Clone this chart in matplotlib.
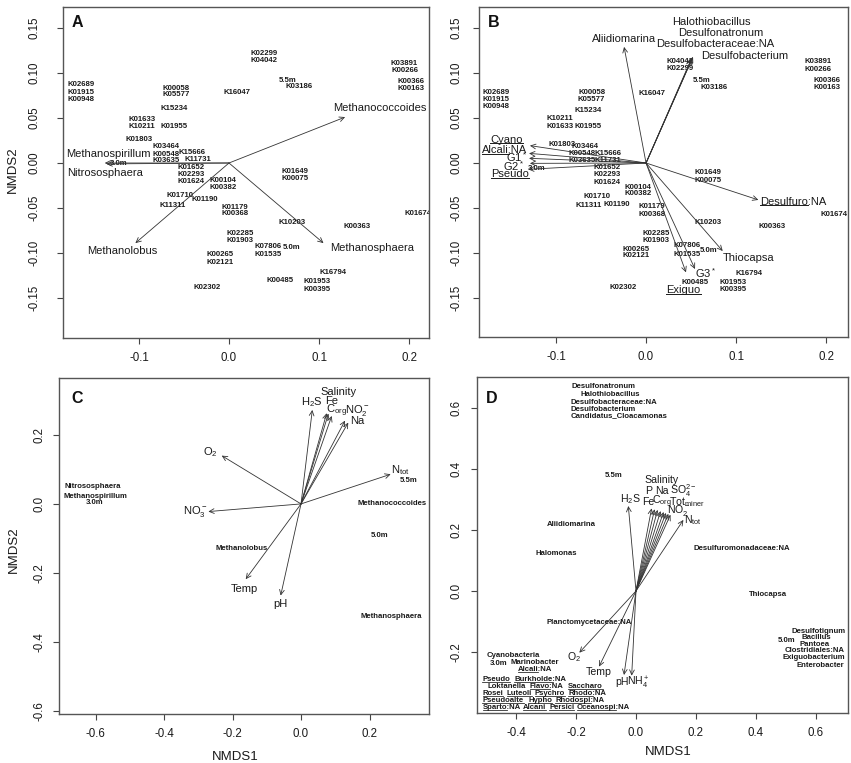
import matplotlib
matplotlib.use('Agg')
import matplotlib.pyplot as plt
from matplotlib.lines import Line2D

plt.rcParams['font.family'] = ['Liberation Sans', 'DejaVu Sans']
plt.rcParams['mathtext.fontset'] = 'custom'
plt.rcParams['mathtext.rm'] = 'Liberation Sans'
plt.rcParams['mathtext.it'] = 'Liberation Sans:italic'
plt.rcParams['mathtext.bf'] = 'Liberation Sans:bold'
plt.rcParams['mathtext.sf'] = 'Liberation Sans'

# ---------------- DATA ----------------
# KEGG orthologs (site/function scores) shared by panels A and B
ko_labels = ['K02689', 'K01915', 'K00948', 'K00058', 'K05577', 'K15234', 'K01633', 'K10211',
             'K01955', 'K01803', 'K03464', 'K15666', 'K00548', 'K03635', 'K11731', 'K01652',
             'K02293', 'K01624', 'K00104', 'K00382', 'K01649', 'K00075', 'K01710', 'K11311',
             'K01190', 'K01179', 'K00368', 'K10203', 'K00363', 'K01674', 'K02285', 'K01903',
             'K07806', 'K01535', 'K00265', 'K02121', 'K02302', 'K00485', 'K16794', 'K01953',
             'K00395', 'K02299', 'K04042', 'K03186', 'K16047', 'K03891', 'K00266', 'K00366',
             'K00163']
koA_x = [-0.164, -0.164, -0.164, -0.059, -0.059, -0.061, -0.097, -0.097,
         -0.061, -0.100, -0.070, -0.041, -0.070, -0.070, -0.035, -0.042,
         -0.042, -0.042, -0.007, -0.007, 0.073, 0.073, -0.054, -0.063,
         -0.027, 0.0067, 0.0067, 0.070, 0.142, 0.210, 0.012, 0.012,
         0.043, 0.043, -0.010, -0.010, -0.024, 0.057, 0.116, 0.098,
         0.098, 0.039, 0.039, 0.078, 0.009, 0.195, 0.195, 0.202,
         0.202]
koA_y = [0.0867, 0.0778, 0.070, 0.0833, 0.0756, 0.061, 0.048, 0.040,
         0.041, 0.0256, 0.018, 0.012, 0.010, 0.003, 0.0044, -0.0047,
         -0.0125, -0.021, -0.019, -0.027, -0.009, -0.017, -0.036, -0.047,
         -0.041, -0.049, -0.056, -0.066, -0.070, -0.056, -0.078, -0.086,
         -0.093, -0.102, -0.102, -0.110, -0.138, -0.131, -0.122, -0.132,
         -0.140, 0.122, 0.114, 0.085, 0.078, 0.111, 0.103, 0.091,
         0.083]
koB_x = [-0.1667, -0.1667, -0.1667, -0.0604, -0.0604, -0.0641, -0.0956, -0.0956,
         -0.0641, -0.0937, -0.0678, -0.0419, -0.0715, -0.0715, -0.0419, -0.0437,
         -0.0437, -0.0437, -0.0085, -0.0085, 0.0693, 0.0693, -0.054, -0.064,
         -0.0326, 0.0063, 0.0063, 0.0685, 0.1396, 0.209, 0.0115, 0.0115,
         0.0452, 0.0452, -0.0107, -0.0107, -0.0252, 0.0544, 0.1144, 0.097,
         0.097, 0.0378, 0.0378, 0.0759, 0.0063, 0.1915, 0.1915, 0.2007,
         0.2007]
koB_y = [0.0785, 0.0707, 0.0626, 0.0778, 0.070, 0.0578, 0.0404, 0.0496,
         0.0404, 0.0211, 0.0181, 0.0107, 0.0107, 0.0033, 0.0033, -0.0052,
         -0.0133, -0.0219, -0.027, -0.0337, -0.0104, -0.0189, -0.037, -0.047,
         -0.0456, -0.0485, -0.0567, -0.0659, -0.070, -0.0567, -0.0781, -0.0856,
         -0.0922, -0.1011, -0.0956, -0.1026, -0.1385, -0.133, -0.1233, -0.1326,
         -0.1404, 0.1052, 0.1133, 0.0841, 0.0767, 0.1133, 0.1044, 0.0922,
         0.0841]

depth_labels = ['3.0m', '5.5m', '5.0m']
depthA_x = [-0.123, 0.065, 0.0696]
depthA_y = [-0.001, 0.092, -0.0937]
depthB_x = [-0.1215, 0.0619, 0.0693]
depthB_y = [-0.006, 0.0922, -0.0967]
depthC_x = [-0.6024, 0.3134, 0.2307]
depthC_y = [0.004, 0.0676, -0.0928]
depthD_x = [-0.4567, -0.0756, 0.5022]
depthD_y = [-0.2393, 0.380, -0.1607]

# Panel A: archaeal genera vectors
a_taxa = ['Methanococcoides', 'Methanospirillum', 'Nitrososphaera', 'Methanolobus', 'Methanosphaera']
a_arrow_x = [0.129, -0.138, -0.136, -0.104, 0.105]
a_arrow_y = [0.051, 0.0, -0.001, -0.089, -0.089]
a_label_x = [0.168, -0.134, -0.138, -0.119, 0.159]
a_label_y = [0.061, 0.010, -0.011, -0.098, -0.094]

# Panel B: bacterial genera vectors
b_taxa = ['Aliidiomarina', 'Halothiobacillus', 'Desulfonatronum', 'Desulfobacteraceae:NA',
          'Desulfobacterium', 'Cyano', 'Alcali:NA', 'G1$^*$', 'G2$^*$', 'Pseudo',
          'Desulfuro:NA', 'Thiocapsa', 'G3$^*$', 'Exiguo']
b_underline = ['', '', '', '', '', 'Cyano', 'Alcali', '', '', 'Pseudo', 'Desulfuro', '', '', 'Exiguo']
b_arrow_x = [-0.0244, 0.050, 0.051, 0.0515, 0.0522, -0.129, -0.130, -0.130, -0.129, -0.131,
             0.1248, 0.0852, 0.0544, 0.0444]
b_arrow_y = [0.129, 0.115, 0.116, 0.117, 0.118, 0.0193, 0.0107, 0.0052, -0.0004, -0.007,
             -0.041, -0.0978, -0.1178, -0.1215]
b_label_x = [-0.0244, 0.0726, 0.083, 0.0767, 0.110, -0.155, -0.157, -0.144, -0.147, -0.151,
             0.1637, 0.1137, 0.0656, 0.0415]
b_label_y = [0.138, 0.157, 0.144, 0.132, 0.119, 0.026, 0.0144, 0.0063, -0.0033, -0.0122,
             -0.043, -0.106, -0.1226, -0.141]

# Panel C: environmental vectors (archaea)
c_vars = ['H$_2$S', 'Fe', 'Salinity', 'C$_{\\mathrm{org}}$', 'NO$_2^-$', 'Na', 'O$_2$',
          'N$_{\\mathrm{tot}}$', 'NO$_3^-$', 'Temp', 'pH']
c_arrow_x = [0.033, 0.075, 0.080, 0.0896, 0.1285, 0.138, -0.2316, 0.2618, -0.2706, -0.1615, -0.0594]
c_arrow_y = [0.2725, 0.263, 0.262, 0.255, 0.2415, 0.2357, 0.14, 0.086, -0.0222, -0.2183, -0.2657]
c_label_x = [0.033, 0.0896, 0.109, 0.104, 0.1626, 0.1645, -0.2657, 0.289, -0.3095, -0.1655, -0.0594]
c_label_y = [0.2965, 0.2985, 0.3256, 0.270, 0.2705, 0.2415, 0.1488, 0.0966, -0.0222, -0.2464, -0.2908]
c_taxa = ['Nitrososphaera', 'Methanospirillum', 'Methanococcoides', 'Methanolobus', 'Methanosphaera']
c_taxa_x = [-0.608, -0.6015, 0.2647, -0.1732, 0.2647]
c_taxa_y = [0.050, 0.0213, 0.0, -0.1285, -0.3266]

# Panel D: environmental vectors (bacteria)
d_vars = ['H$_2$S', 'Fe', 'P', 'Salinity', 'Na', 'C$_{\\mathrm{org}}$', 'SO$_4^{2-}$',
          'Tot$_{\\mathrm{miner}}$', 'NO$_2^-$', 'N$_{\\mathrm{tot}}$', 'O$_2$', 'Temp', 'pH', 'NH$_4^+$']
d_arrow_x = [-0.0256, 0.052, 0.062, 0.072, 0.082, 0.092, 0.100, 0.108, 0.115, 0.158,
             -0.189, -0.1233, -0.040, -0.0144]
d_arrow_y = [0.2787, 0.271, 0.268, 0.266, 0.262, 0.259, 0.256, 0.253, 0.250, 0.233,
             -0.2023, -0.248, -0.2754, -0.2777]
d_label_x = [-0.020, 0.041, 0.041, 0.0856, 0.0878, 0.0878, 0.158, 0.169, 0.1433, 0.191,
             -0.2056, -0.1233, -0.048, 0.0078]
d_label_y = [0.3016, 0.2907, 0.328, 0.364, 0.328, 0.293, 0.328, 0.293, 0.263, 0.233,
             -0.2174, -0.2656, -0.2973, -0.3027]
d_taxa = ['Desulfonatronum', 'Halothiobacillus', 'Desulfobacteraceae:NA', 'Desulfobacterium',
          'Candidatus_Cloacamonas', 'Aliidiomarina', 'Halomonas', 'Desulfuromonadaceae:NA',
          'Thiocapsa', 'Planctomycetaceae:NA', 'Desulfotignum', 'Bacillus', 'Pantoea',
          'Clostridiales:NA', 'Exiguobacterium', 'Enterobacter', 'Cyanobacteria', 'Marinobacter',
          'Alcali:NA', 'Pseudo', 'Burkholde:NA', 'Loktanella', 'Flavo:NA', 'Saccharo',
          'Rosei', 'Luteoli', 'Psychro', 'Rhodo:NA', 'Pseudoalte', 'Hypho', 'Rhodospi:NA',
          'Sparto:NA', 'Alcani', 'Persici', 'Oceanospi:NA']
d_taxa_ul = ['', '', '', '', '', '', '', '', '', '', '', '', '', '', '', '', '', '',
             'Alcali', 'Pseudo', 'Burkholde', '', 'Flavo', 'Saccharo',
             'Rosei', 'Luteoli', 'Psychro', 'Rhodo', 'Pseudoalte', 'Hypho', 'Rhodospi',
             'Sparto', 'Alcani', 'Persici', 'Oceanospi']
d_taxa_x = [-0.109, -0.0844, -0.0722, -0.109, -0.0567, -0.2144, -0.2644, 0.352,
            0.441, -0.1556, 0.6078, 0.602, 0.5967, 0.5944, 0.5911, 0.6133, -0.409, -0.3367,
            -0.3367, -0.4667, -0.319, -0.432, -0.298, -0.169,
            -0.4767, -0.389, -0.2867, -0.1622, -0.4433, -0.3189, -0.1867,
            -0.4478, -0.3378, -0.2478, -0.109]
d_taxa_y = [0.6698, 0.6426, 0.6175, 0.5957, 0.5748, 0.2186, 0.1213, 0.1377,
            -0.013, -0.1027, -0.1334, -0.153, -0.1738, -0.1957, -0.2174, -0.2449, -0.212, -0.235,
            -0.2568, -0.2896, -0.2896, -0.3115, -0.3115, -0.3115,
            -0.3355, -0.3355, -0.3355, -0.3355, -0.3597, -0.3597, -0.3597,
            -0.3814, -0.3814, -0.3814, -0.3814]

# ---------------- STYLE / LAYOUT ----------------
W, H = 851, 763
TXT = '#1a1a1a'
LINE = '#333333'
SMALL = 5.6
BIG = 8.0

fig = plt.figure(figsize=(W / 100, H / 100), dpi=100)
fig.patch.set_facecolor('white')


def mk_axes(l, t, r, b):
    return fig.add_axes([l / W, 1 - b / H, (r - l) / W, (b - t) / H])


axA = mk_axes(63, 7, 429, 338)
axB = mk_axes(479, 7, 848, 337)
axC = mk_axes(59, 378, 429, 714)
axD = mk_axes(477, 377, 848, 713)

ul_jobs = []


def style(ax, xlim, ylim, xt, xtl, yt, ytl, ypad):
    ax.set_xlim(*xlim)
    ax.set_ylim(*ylim)
    ax.set_xticks(xt)
    ax.set_xticklabels(xtl)
    ax.set_yticks(yt)
    ax.set_yticklabels(ytl, rotation=90, va='center')
    ax.tick_params(axis='both', direction='out', length=4.3, width=0.8, colors='#444444',
                   labelcolor=TXT, labelsize=8.3)
    ax.tick_params(axis='x', pad=5.5)
    ax.tick_params(axis='y', pad=ypad)
    for sp in ax.spines.values():
        sp.set_color('#555555')
        sp.set_linewidth(1.0)


def arrow(ax, x, y, lw=0.6):
    ax.annotate('', xy=(x, y), xytext=(0, 0),
                arrowprops=dict(arrowstyle='->,head_length=0.35,head_width=0.17', lw=lw,
                                color=LINE, shrinkA=0, shrinkB=0))


def label(ax, x, y, s, size, bold=False, ul=''):
    t = ax.text(x, y, s, fontsize=size, fontweight='bold' if bold else 'normal',
                ha='center', va='center', color=TXT, clip_on=True)
    if ul:
        ul_jobs.append((ax, t, ul))
    return t


# Panel A
style(axA, (-0.1844, 0.2222), (-0.1944, 0.1733),
      [-0.1, 0.0, 0.1, 0.2], ['-0.1', '0.0', '0.1', '0.2'],
      [-0.15, -0.10, -0.05, 0.0, 0.05, 0.10, 0.15],
      ['-0.15', '-0.10', '-0.05', '0.00', '0.05', '0.10', '0.15'], 12)
for s, x, y in zip(ko_labels, koA_x, koA_y):
    label(axA, x, y, s, SMALL, bold=True)
for s, x, y in zip(depth_labels, depthA_x, depthA_y):
    label(axA, x, y, s, SMALL, bold=True)
for s, ax_, ay, lx, ly in zip(a_taxa, a_arrow_x, a_arrow_y, a_label_x, a_label_y):
    arrow(axA, ax_, ay)
    label(axA, lx, ly, s, BIG)

# Panel B
style(axB, (-0.1856, 0.2244), (-0.1933, 0.1733),
      [-0.1, 0.0, 0.1, 0.2], ['-0.1', '0.0', '0.1', '0.2'],
      [-0.15, -0.10, -0.05, 0.0, 0.05, 0.10, 0.15],
      ['-0.15', '-0.10', '-0.05', '0.00', '0.05', '0.10', '0.15'], 7.6)
for s, x, y in zip(ko_labels, koB_x, koB_y):
    label(axB, x, y, s, SMALL, bold=True)
for s, x, y in zip(depth_labels, depthB_x, depthB_y):
    label(axB, x, y, s, SMALL, bold=True)
for s, u, ax_, ay, lx, ly in zip(b_taxa, b_underline, b_arrow_x, b_arrow_y, b_label_x, b_label_y):
    arrow(axB, ax_, ay)
    label(axB, lx, ly, s, BIG, ul=u)

# Panel C
style(axC, (-0.7066, 0.3737), (-0.609, 0.365),
      [-0.6, -0.4, -0.2, 0.0, 0.2], ['-0.6', '-0.4', '-0.2', '0.0', '0.2'],
      [-0.6, -0.4, -0.2, 0.0, 0.2], ['-0.6', '-0.4', '-0.2', '0.0', '0.2'], 5.5)
for s, ax_, ay, lx, ly in zip(c_vars, c_arrow_x, c_arrow_y, c_label_x, c_label_y):
    arrow(axC, ax_, ay)
    label(axC, lx, ly, s, BIG)
for s, x, y in zip(c_taxa, c_taxa_x, c_taxa_y):
    label(axC, x, y, s, SMALL, bold=True)
for s, x, y in zip(depth_labels, depthC_x, depthC_y):
    label(axC, x, y, s, SMALL, bold=True)

# Panel D
style(axD, (-0.53, 0.7067), (-0.40, 0.7016),
      [-0.4, -0.2, 0.0, 0.2, 0.4, 0.6], ['-0.4', '-0.2', '0.0', '0.2', '0.4', '0.6'],
      [-0.2, 0.0, 0.2, 0.4, 0.6], ['-0.2', '0.0', '0.2', '0.4', '0.6'], 6.2)
for s, ax_, ay, lx, ly in zip(d_vars, d_arrow_x, d_arrow_y, d_label_x, d_label_y):
    arrow(axD, ax_, ay)
    label(axD, lx, ly, s, 7.6)
for s, u, x, y in zip(d_taxa, d_taxa_ul, d_taxa_x, d_taxa_y):
    label(axD, x, y, s, SMALL, bold=True, ul=u)
for s, x, y in zip(depth_labels, depthD_x, depthD_y):
    label(axD, x, y, s, SMALL, bold=True)

# Panel letters
for letter, px, py in [('A', 72, 27), ('B', 488, 27), ('C', 71, 403), ('D', 486, 403)]:
    fig.text(px / W, 1 - py / H, letter, fontsize=11.5, fontweight='bold', ha='left',
             va='baseline', color='#111111')

# Axis titles
fig.text(13 / W, 1 - 170 / H, 'NMDS2', rotation=90, fontsize=9.5, ha='center', va='center', color=TXT)
fig.text(14 / W, 1 - 550 / H, 'NMDS2', rotation=90, fontsize=9.5, ha='center', va='center', color=TXT)
fig.text(235 / W, 1 - 757 / H, 'NMDS1', fontsize=9.5, ha='center', va='center', color=TXT)
fig.text(668 / W, 1 - 752 / H, 'NMDS1', fontsize=9.5, ha='center', va='center', color=TXT)

# Underlines (drawn after measuring text extents)
fig.canvas.draw()
rend = fig.canvas.get_renderer()
for ax, t, prefix in ul_jobs:
    bb = t.get_window_extent(rend)
    tmp = ax.text(0, 0, prefix, fontsize=t.get_fontsize(), fontweight=t.get_fontweight())
    w = tmp.get_window_extent(rend).width
    tmp.remove()
    fs_px = t.get_fontsize() * 100 / 72
    yy = bb.y0 + 0.12 * fs_px
    inv = ax.transData.inverted()
    p0 = inv.transform((bb.x0, yy))
    p1 = inv.transform((bb.x0 + w, yy))
    ax.add_line(Line2D([p0[0], p1[0]], [p0[1], p1[1]], lw=0.55 if t.get_fontsize() < 7 else 0.7,
                       color=TXT, clip_on=False))

fig.savefig('out.png', dpi=100)
